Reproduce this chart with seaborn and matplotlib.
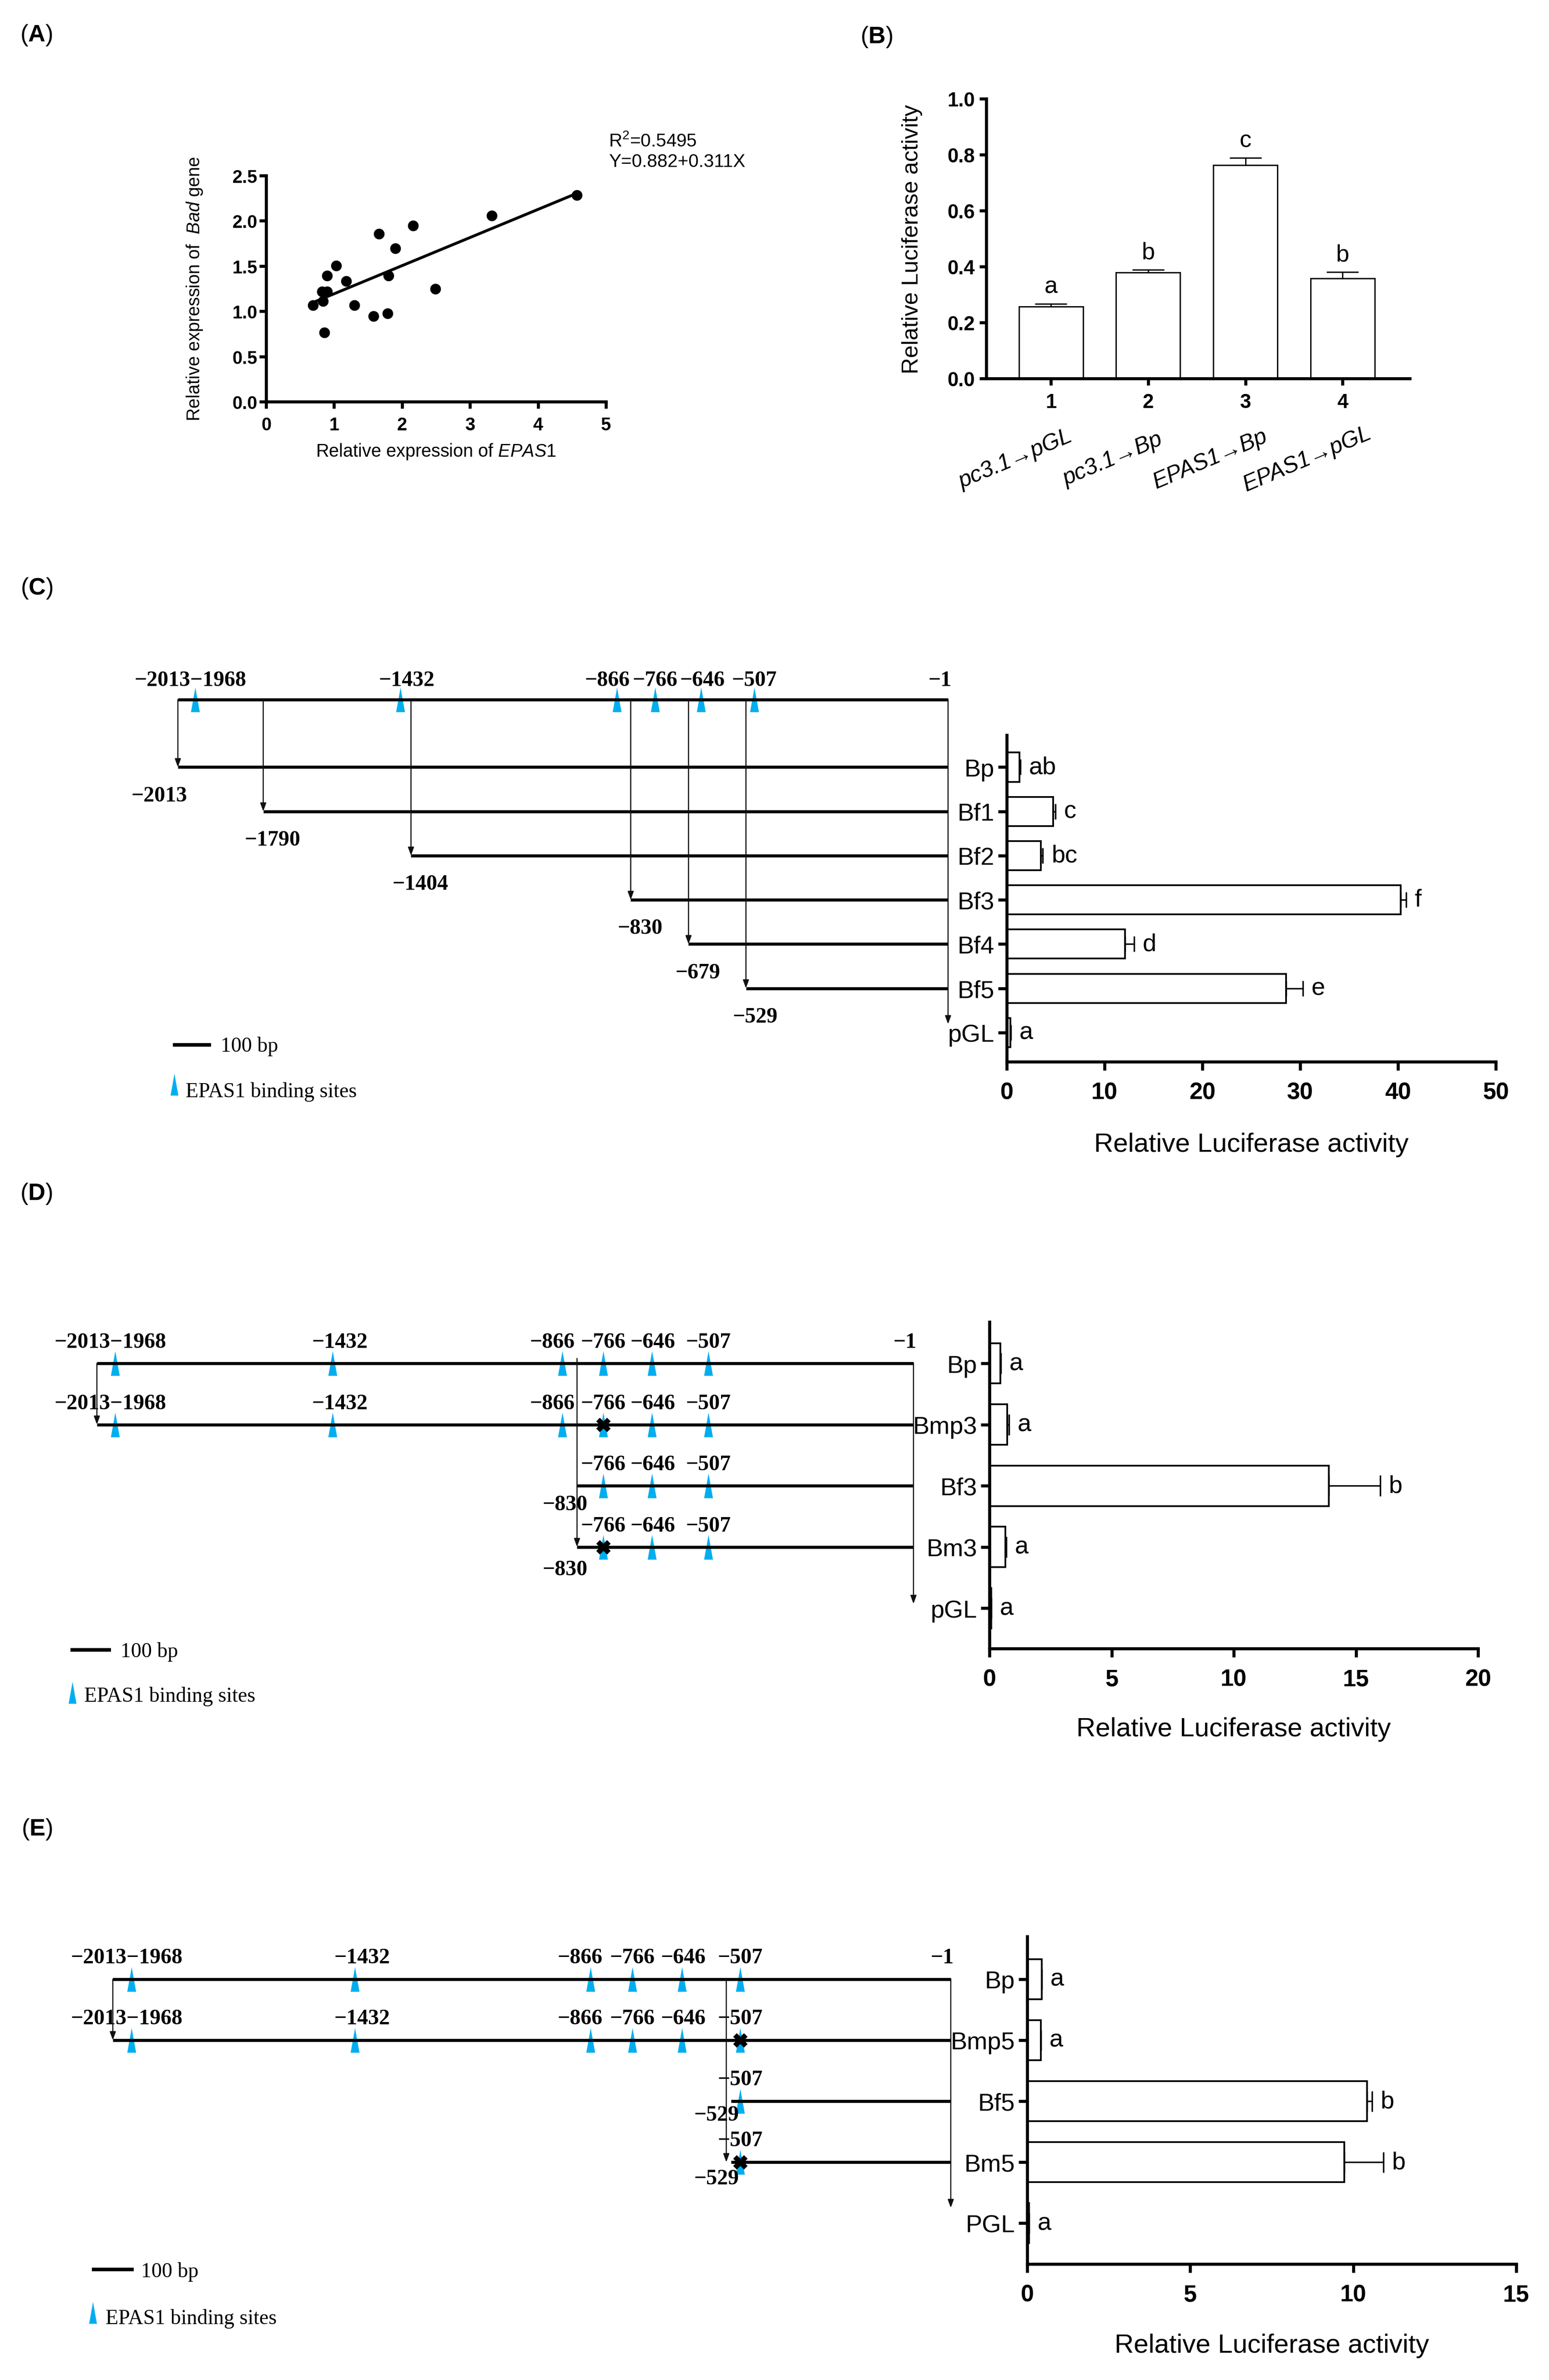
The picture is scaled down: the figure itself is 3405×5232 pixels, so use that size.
import numpy as np
import pandas as pd
import matplotlib
matplotlib.use("Agg")
import matplotlib.pyplot as plt
from matplotlib.path import Path
from matplotlib.transforms import blended_transform_factory
import seaborn as sns

W, H = 3405, 5233
DPI = 300

# ---------------- datos ----------------
# (A) correlacion EPAS1 vs Bad
epas1_expr = [0.69, 0.825, 0.84, 0.898, 0.898, 0.854, 1.03, 1.175, 1.30,
              1.577, 1.657, 1.788, 1.803, 1.898, 2.16, 2.489, 3.32, 4.57]
bad_expr = [1.066, 1.218, 1.112, 1.218, 1.395, 0.763, 1.504, 1.335, 1.066,
            0.946, 1.854, 0.975, 1.395, 1.695, 1.946, 1.25, 2.055, 2.285]
fit_intercept = 0.882
fit_slope = 0.311
r_squared = 0.5495

# (B) co-transfeccion
b_groups = ["1", "2", "3", "4"]
b_names = ["pc3.1→pGL", "pc3.1→Bp", "EPAS1→Bp", "EPAS1→pGL"]
b_mean = [0.257, 0.379, 0.763, 0.358]
b_sem = [0.010, 0.010, 0.026, 0.023]
b_letters = ["a", "b", "c", "b"]

# sitios de union EPAS1 en el promotor
sites = [-1968, -1432, -866, -766, -646, -507]
prom_start = -2013
prom_end = -1

# (C) delecciones
c_names = ["Bp", "Bf1", "Bf2", "Bf3", "Bf4", "Bf5", "pGL"]
c_start = [-2013, -1790, -1404, -830, -679, -529]
c_mean = [1.30, 4.74, 3.48, 40.28, 12.11, 28.58, 0.38]
c_sem = [0.08, 0.25, 0.21, 0.54, 0.92, 1.72, 0.03]
c_letters = ["ab", "c", "bc", "f", "d", "e", "a"]

# (D) mutacion -766
d_names = ["Bp", "Bmp3", "Bf3", "Bm3", "pGL"]
d_start = [-2013, -2013, -830, -830]
d_mutated = [None, -766, None, -766]
d_mean = [0.45, 0.72, 13.89, 0.66, 0.07]
d_sem = [0.02, 0.09, 2.10, 0.02, 0.01]
d_letters = ["a", "a", "b", "a", "a"]

# (E) mutacion -507
e_names = ["Bp", "Bmp5", "Bf5", "Bm5", "PGL"]
e_start = [-2013, -2013, -529, -529]
e_mutated = [None, -507, None, -507]
e_mean = [0.44, 0.415, 10.43, 9.72, 0.05]
e_sem = [0.01, 0.01, 0.14, 1.20, 0.01]
e_letters = ["a", "a", "b", "b", "a"]

# ---------------- estilo ----------------
sns.set_theme(style="ticks", rc={"axes.edgecolor": "black", "xtick.color": "black",
                                 "ytick.color": "black", "text.color": "black",
                                 "axes.labelcolor": "black"})
plt.rcParams["font.family"] = ["Liberation Sans", "DejaVu Sans"]
plt.rcParams["mathtext.fontset"] = "custom"
plt.rcParams["mathtext.rm"] = "Liberation Sans"
plt.rcParams["mathtext.it"] = "Liberation Sans:italic"
plt.rcParams["mathtext.bf"] = "Liberation Sans:bold"
SERIF = ["Liberation Serif", "DejaVu Serif"]
BLUE = "#00AEEF"
TRI = Path([(-0.36, -1), (0.36, -1), (0, 1), (-0.36, -1)],
           [Path.MOVETO, Path.LINETO, Path.LINETO, Path.CLOSEPOLY])
TRI_SIZE = 13
LABEL_SHIFT = {-1432: 17, -866: -25, -766: 0, -646: 3, -507: 0}
SPINE = 1.6

fig = plt.figure(figsize=(W / DPI, H / DPI), dpi=DPI, facecolor="white")


def px_axes(x0, y0, x1, y1):
    return fig.add_axes([x0 / W, 1 - y1 / H, (x1 - x0) / W, (y1 - y0) / H])


def px_text(x, y, s, **kw):
    fig.text(x / W, 1 - y / H, s, **kw)


def style_axes(ax, lw=SPINE):
    sns.despine(ax=ax)
    for sp in ("left", "bottom"):
        ax.spines[sp].set_linewidth(lw)
        ax.spines[sp].set_color("black")


def bp_text(ax, x, y, s, size=11.5, weight="bold", **kw):
    ax.text(x, y, s, fontsize=size, fontweight=weight, family=SERIF,
            clip_on=False, **kw)


def site_labels(ax, row, start, dy, end_label=False):
    for s in sites:
        if s <= start:
            continue
        if s == -1968:
            if start == prom_start:
                bp_text(ax, -1980, row - dy, "−2013−1968", ha="center", va="center")
        else:
            bp_text(ax, s + LABEL_SHIFT[s], row - dy, f"−{abs(s)}", ha="center", va="center")
    if end_label:
        bp_text(ax, -22, row - dy, "−1", ha="center", va="center")


def construct(ax, row, start, mutated=None, triangles=True):
    ax.hlines(row, start, prom_end, color="black", lw=1.6, zorder=3, clip_on=False)
    if triangles:
        here = [s for s in sites if s > start]
        ax.scatter(here, [row] * len(here), marker=TRI, s=TRI_SIZE ** 2, color=BLUE,
                   linewidths=0, zorder=2, clip_on=False)
    if mutated is not None:
        ax.scatter([mutated], [row], marker="X", s=58, color="black", linewidths=0,
                   zorder=4, clip_on=False)


def arrow(ax, x, y0, y1):
    ax.annotate("", xy=(x, y1), xytext=(x, y0), annotation_clip=False,
                arrowprops=dict(arrowstyle="-|>,head_length=0.36,head_width=0.13",
                                color="#111111", lw=0.6, shrinkA=0, shrinkB=0,
                                mutation_scale=10))


def legend(ax, bar_x, bar_y, txt_x, tri_x, tri_y, txt2_y):
    ax.hlines(bar_y, bar_x, bar_x + 100, color="black", lw=1.9, clip_on=False)
    bp_text(ax, txt_x, bar_y + 0.03, "100 bp", size=11, weight="normal", ha="left", va="center")
    ax.scatter([tri_x], [tri_y], marker=TRI, s=11.5 ** 2, color=BLUE, linewidths=0, clip_on=False)
    bp_text(ax, tri_x + 30, txt2_y, "EPAS1 binding sites", size=11, weight="normal",
            ha="left", va="center")


def diagram_axes(x_left, x_right, y_top, y_bottom, ylim):
    ax = px_axes(x_left, y_top, x_right, y_bottom)
    ax.set_xlim(prom_start, prom_end)
    ax.set_ylim(*ylim)
    ax.axis("off")
    return ax


def bar_panel(rect, names, means, sems, letters, xmax, xstep, capsize, ylim, label_y):
    ax = px_axes(*rect)
    df = pd.DataFrame({"construct": names, "activity": means})
    sns.barplot(data=df, x="activity", y="construct", orient="h", ax=ax, color="white",
                saturation=1, edgecolor="black", linewidth=0.9, width=0.66, errorbar=None)
    pos = np.arange(len(names))
    ax.errorbar(means, pos, xerr=[np.zeros(len(names)), sems], fmt="none", ecolor="black",
                elinewidth=0.8, capsize=capsize, capthick=0.8, zorder=4)
    for p, m, s, lt in zip(pos, means, sems, letters):
        ax.annotate(lt, xy=(m + s, p), xytext=(4.5, 0), textcoords="offset points",
                    ha="left", va="center", fontsize=13)
    ax.set_xlim(0, xmax)
    ax.set_ylim(*ylim)
    ticks = np.arange(0, xmax + 0.01, xstep)
    ax.set_xticks(ticks)
    ax.set_xticklabels([f"{t:g}" for t in ticks], fontweight="bold", fontsize=12.5)
    ax.set_yticks(pos)
    ax.set_yticklabels(names, fontsize=13)
    ax.tick_params(axis="both", width=SPINE, length=4.5)
    ax.tick_params(axis="x", pad=6)
    ax.tick_params(axis="y", pad=2)
    ax.set_ylabel("")
    ax.set_xlabel("Relative Luciferase activity", fontsize=14)
    ax.xaxis.set_label_coords(0.5, label_y)
    style_axes(ax)
    return ax


# ---------------- (A) ----------------
ax_a = px_axes(585, 387, 1332, 884)
df_a = pd.DataFrame({"epas1": epas1_expr, "bad": bad_expr})
sns.scatterplot(data=df_a, x="epas1", y="bad", ax=ax_a, color="black", s=32,
                linewidth=0, zorder=3, clip_on=False)
fit_x = np.array([min(epas1_expr), max(epas1_expr)])
sns.lineplot(x=fit_x, y=fit_intercept + fit_slope * fit_x, ax=ax_a, color="black", lw=1.5)
ax_a.set_xlim(0, 5)
ax_a.set_ylim(0, 2.5)
ax_a.set_xticks(range(6))
ax_a.set_xticklabels([str(t) for t in range(6)], fontweight="bold", fontsize=9.5)
yt = np.arange(0, 2.51, 0.5)
ax_a.set_yticks(yt)
ax_a.set_yticklabels([f"{t:.1f}" for t in yt], fontweight="bold", fontsize=9.5)
ax_a.tick_params(axis="both", width=SPINE, length=3.6)
ax_a.tick_params(axis="x", pad=4)
ax_a.tick_params(axis="y", pad=1)
ax_a.set_xlabel(r"Relative expression of $\it{EPAS1}$", fontsize=9.5)
ax_a.set_ylabel(r"Relative expression of  $\it{Bad}$ gene", fontsize=9.5)
ax_a.xaxis.set_label_coords(0.5, -0.177)
ax_a.yaxis.set_label_coords(-0.182, 0.5)
style_axes(ax_a)
px_text(1338, 310, f"R$^{{2}}$={r_squared}", fontsize=9.7, va="center", ha="left")
px_text(1338, 356, f"Y={fit_intercept:.3f}+{fit_slope:.3f}X", fontsize=9.7, va="center", ha="left")

# ---------------- (B) ----------------
ax_b = px_axes(2168, 218, 3099, 833)
df_b = pd.DataFrame({"group": b_groups, "mean": b_mean})
sns.barplot(data=df_b, x="group", y="mean", ax=ax_b, color="white", saturation=1,
            edgecolor="black", linewidth=0.7, width=0.66, errorbar=None)
xb = np.arange(len(b_groups))
ax_b.errorbar(xb, b_mean, yerr=[np.zeros(len(b_groups)), b_sem], fmt="none", ecolor="black",
              elinewidth=0.7, capsize=8.5, capthick=0.7, zorder=4)
for i, (m, s, lt) in enumerate(zip(b_mean, b_sem, b_letters)):
    ax_b.text(i, m + s + 0.04, lt, ha="center", va="baseline", fontsize=12.5)
trans_b = blended_transform_factory(ax_b.transData, ax_b.transAxes)
for i, nm in enumerate(b_names):
    ax_b.text(i - 0.365, -0.288, nm, transform=trans_b, rotation=23, ha="center",
              va="center", rotation_mode="anchor", fontstyle="italic", fontsize=12)
ax_b.set_xlim(-0.665, 3.69)
ax_b.set_ylim(0, 1.0)
ax_b.set_xticks(xb)
ax_b.set_xticklabels(b_groups, fontweight="bold", fontsize=10.5)
ytb = np.arange(0, 1.01, 0.2)
ax_b.set_yticks(ytb)
ax_b.set_yticklabels([f"{t:.1f}" for t in ytb], fontweight="bold", fontsize=10.5)
ax_b.tick_params(axis="both", width=SPINE, length=3.7)
ax_b.tick_params(axis="x", pad=4)
ax_b.tick_params(axis="y", pad=2.4)
ax_b.set_xlabel("")
ax_b.set_ylabel("Relative Luciferase activity", fontsize=12)
ax_b.yaxis.set_label_coords(-0.150, 0.5)
style_axes(ax_b)

# ---------------- (C) ----------------
c_ylim = (6.66, -0.725)
bar_panel((2213, 1617, 3288, 2335), c_names, c_mean, c_sem, c_letters, 50, 10, 4.0,
          c_ylim, -0.216)
ax_cd = diagram_axes(391, 2084, 1617, 2335, c_ylim)
top_row = -1.527
construct(ax_cd, top_row, prom_start)
site_labels(ax_cd, top_row, prom_start, 0.44, end_label=True)
for i, st in enumerate(c_start):
    construct(ax_cd, i, st, triangles=False)
    arrow(ax_cd, st, top_row, i)
    dx = -49 if st == prom_start else 24
    bp_text(ax_cd, st + dx, i + 0.64, f"−{abs(st)}", ha="center", va="center")
arrow(ax_cd, prom_end, top_row, 5.81)
legend(ax_cd, -2026, 6.28, -1901, -2022.5, 7.17, 7.33)

# ---------------- (D) ----------------
d_ylim = (4.66, -0.677)
bar_panel((2175, 2907, 3249, 3625), d_names, d_mean, d_sem, d_letters, 20, 5, 5.6,
          d_ylim, -0.209)
ax_dd = diagram_axes(213, 2008, 2907, 3625, d_ylim)
for i, (st, mu) in enumerate(zip(d_start, d_mutated)):
    construct(ax_dd, i, st, mutated=mu)
    site_labels(ax_dd, i, st, 0.35, end_label=(i == 0))
arrow(ax_dd, prom_start, 0, 1)
arrow(ax_dd, -830, -0.08, 3)
arrow(ax_dd, prom_end, 0, 3.93)
bp_text(ax_dd, -860, 2 + 0.30, "−830", ha="center", va="center")
bp_text(ax_dd, -860, 3 + 0.37, "−830", ha="center", va="center")
legend(ax_dd, -2078, 4.68, -1955, -2074, 5.38, 5.44)

# ---------------- (E) ----------------
e_ylim = (4.67, -0.70)
bar_panel((2258, 4258, 3333, 4978), e_names, e_mean, e_sem, e_letters, 15, 5, 5.4,
          e_ylim, -0.211)
ax_ed = diagram_axes(248, 2090, 4258, 4978, e_ylim)
for i, (st, mu) in enumerate(zip(e_start, e_mutated)):
    construct(ax_ed, i, st, mutated=mu)
    site_labels(ax_ed, i, st, 0.36, end_label=(i == 0))
arrow(ax_ed, prom_start, 0, 1)
arrow(ax_ed, -540, 0, 3)
arrow(ax_ed, prom_end, 0, 3.75)
bp_text(ax_ed, -563, 2 + 0.22, "−529", ha="center", va="center")
bp_text(ax_ed, -563, 3 + 0.27, "−529", ha="center", va="center")
legend(ax_ed, -2063, 4.76, -1945, -2061, 5.47, 5.56)

# ---------------- etiquetas de panel ----------------
for lab, (x, y) in zip("ABCDE", [(44, 78), (1891, 81), (45, 1294), (44, 2625), (47, 4022)]):
    px_text(x, y, f"($\\mathbf{{{lab}}}$)", fontsize=12.5, ha="left", va="center")

fig.savefig("out.png", dpi=DPI, facecolor="white")
